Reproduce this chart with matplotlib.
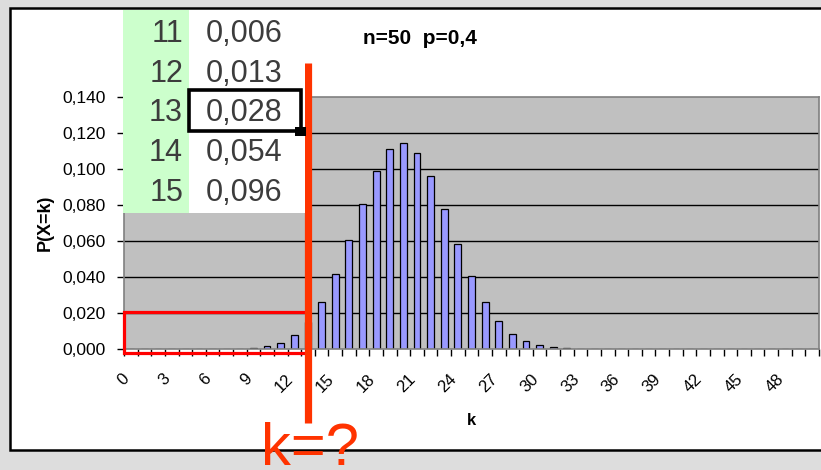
import matplotlib
matplotlib.use("Agg")
import matplotlib.pyplot as plt
import matplotlib.transforms as mtrans
from matplotlib.patches import Rectangle
from matplotlib.lines import Line2D
from matplotlib.ticker import FuncFormatter, FixedLocator

plt.rcParams['font.family'] = ['Liberation Sans', 'DejaVu Sans']

# Binomial distribution n=50, p=0.4 : P(X=k) for k = 0..50
k_values = list(range(51))
pmf = [0.0, 0.0, 0.0, 0.0, 0.0, 0.000004, 0.000016, 0.000053, 0.000169, 0.000527,
       0.00144, 0.00349, 0.00756, 0.01474, 0.02597, 0.04155, 0.06059, 0.08079,
       0.09874, 0.11086, 0.11456, 0.10910, 0.09588, 0.07781, 0.05836, 0.04046,
       0.02594, 0.01537, 0.00842, 0.00426, 0.00199, 0.000855, 0.000338, 0.000123,
       0.000041, 0.000012, 0.000003, 0.000001, 0.0, 0.0, 0.0, 0.0, 0.0, 0.0, 0.0,
       0.0, 0.0, 0.0, 0.0, 0.0, 0.0]
xtick_labels = list(range(0, 49, 3))
y_ticks = [0.0, 0.02, 0.04, 0.06, 0.08, 0.10, 0.12, 0.14]

# Spreadsheet excerpt: cumulative probabilities P(X<=k)
table_k = [11, 12, 13, 14, 15]
table_cdf = [0.006, 0.013, 0.028, 0.054, 0.096]
marked_k = 13

W, H = 821, 470
fig = plt.figure(figsize=(W / 100, H / 100), dpi=100)
fig.patch.set_facecolor('#DDDDDD')

def fx(px):
    return px / W

def fy(py):
    return 1 - py / H

# white chart area with black frame
fig.add_artist(Rectangle((fx(10), fy(450)), fx(830) - fx(10), fy(7.5) - fy(450),
                         transform=fig.transFigure, facecolor='white',
                         edgecolor='black', linewidth=1.8, zorder=0))

ax = fig.add_axes([fx(124), fy(349), fx(819) - fx(124), fy(97) - fy(349)])
ax.set_facecolor('#C0C0C0')
for s in ax.spines.values():
    s.set_color('#808080')
    s.set_linewidth(1.2)

ax.set_xlim(-0.5, 50.5)
ax.set_ylim(0, 0.14)
ax.set_yticks(y_ticks)
for yv in y_ticks[1:-1]:
    ax.axhline(yv, color='black', linewidth=1.0, zorder=1)

ax.bar(k_values, pmf, width=0.5, color='#9999FF', edgecolor='black',
       linewidth=0.9, zorder=2)

ax.yaxis.set_major_formatter(FuncFormatter(lambda v, p: f"{v:.3f}".replace('.', ',')))
ax.tick_params(axis='y', direction='out', length=5, width=1, color='black',
               labelsize=12.5, pad=8)

ax.xaxis.set_major_locator(FixedLocator(xtick_labels))
ax.set_xticklabels([str(v) for v in xtick_labels], rotation=45, ha='right',
                   va='top', rotation_mode='anchor', fontsize=12)
ax.xaxis.set_minor_locator(FixedLocator([i - 0.5 for i in range(52)]))
ax.tick_params(axis='x', which='major', length=0, pad=16)
ax.tick_params(axis='x', which='minor', direction='out', length=5, width=1,
               color='black')
shift = mtrans.ScaledTranslation(-9 / 100, 0, fig.dpi_scale_trans)
for lbl in ax.get_xticklabels():
    lbl.set_transform(lbl.get_transform() + shift)

ax.set_ylabel('P(X=k)', fontsize=13, fontweight='bold', labelpad=6)
ax.set_xlabel('k', fontsize=12, fontweight='bold', labelpad=13)

fig.text(fx(363), fy(38), 'n=50  p=0,4', fontsize=15, fontweight='bold',
         ha='left', va='center')

# spreadsheet excerpt overlay
fig.add_artist(Rectangle((fx(123), fy(213)), fx(189) - fx(123), fy(10) - fy(213),
                         transform=fig.transFigure, facecolor='#CCFFCC',
                         edgecolor='none', zorder=5))
fig.add_artist(Rectangle((fx(189), fy(213)), fx(305) - fx(189), fy(10) - fy(213),
                         transform=fig.transFigure, facecolor='white',
                         edgecolor='none', zorder=5))
row_y0, row_dy = 34, 39.7
for i, (kk, cv) in enumerate(zip(table_k, table_cdf)):
    yy = fy(row_y0 + i * row_dy)
    fig.text(fx(183), yy, str(kk), fontsize=22, color='#3c3c3c', ha='right',
             va='center', zorder=6)
    fig.text(fx(206), yy, f"{cv:.3f}".replace('.', ','), fontsize=22,
             color='#3c3c3c', ha='left', va='center', zorder=6)
sy = 111.5
fig.add_artist(Rectangle((fx(189), fy(sy + 20)), fx(301) - fx(189), fy(sy - 21) - fy(sy + 20),
                         transform=fig.transFigure, facecolor='none',
                         edgecolor='black', linewidth=2.6, zorder=7))
fig.add_artist(Rectangle((fx(295), fy(sy + 24)), fx(306) - fx(295), fy(sy + 15) - fy(sy + 24),
                         transform=fig.transFigure, facecolor='black',
                         edgecolor='none', zorder=8))

# red marking: lower tail region and the searched boundary
ax.add_patch(Rectangle((-0.5, -0.0022), marked_k + 0.45, 0.0228, facecolor='none',
                       edgecolor='#FF0000', linewidth=2.3, clip_on=False, zorder=9))
ax.add_line(Line2D([marked_k, marked_k], [-0.041, 0.159], color='#FF3300',
                   linewidth=5.2, clip_on=False, zorder=10, solid_capstyle='butt'))
fig.text(fx(261), fy(465), 'k=?', fontsize=43, color='#FF3300', ha='left',
         va='baseline', zorder=11)

fig.savefig('out.png', dpi=100, facecolor=fig.get_facecolor())
